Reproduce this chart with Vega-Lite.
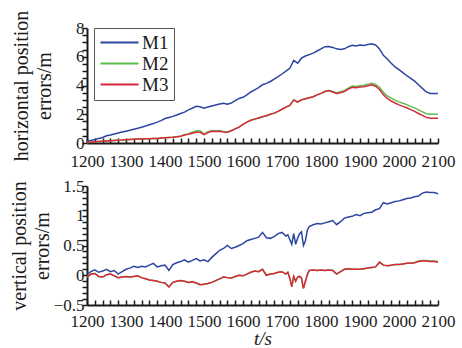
{
  "$schema": "https://vega.github.io/schema/vega-lite/v6.json",
  "padding": {"left": 9, "top": 10, "right": 4, "bottom": 0},
  "config": {
    "font": "Liberation Serif",
    "view": {"stroke": null},
    "style": {"guide-label": {"font": "Liberation Serif"}, "guide-title": {"font": "Liberation Serif"}},
    "axis": {
      "labelFont": "Liberation Serif", "labelFontSize": 17, "labelColor": "#1a1a1a",
      "titleFont": "Liberation Serif", "titleFontSize": 20, "titleFontWeight": "normal", "titleColor": "#1a1a1a",
      "domainColor": "#1a1a1a", "domainWidth": 2, "tickColor": "#1a1a1a", "tickWidth": 1.5,
      "grid": false, "labelOverlap": false, "labelFlush": false
    },
    "axisX": {"tickSize": -5, "labelPadding": 13},
    "axisY": {"tickSize": 5, "labelPadding": -2},
    "legend": {
      "labelFont": "Liberation Serif", "labelFontSize": 19, "labelColor": "#1a1a1a",
      "symbolType": "M-2.5,0H2.5", "symbolSize": 231, "symbolStrokeWidth": 2,
      "symbolOffset": 11, "labelOffset": 13,
      "strokeColor": "#555555", "padding": 5, "rowPadding": 1
    }
  },
  "datasets": {
    "horizontal": [
      {"t":1200,"M1":0.10,"M2":0.04,"M3":0.04},{"t":1210,"M1":0.18,"M2":0.06,"M3":0.06},{"t":1220,"M1":0.25,"M2":0.08,"M3":0.08},
      {"t":1230,"M1":0.32,"M2":0.10,"M3":0.10},{"t":1240,"M1":0.38,"M2":0.12,"M3":0.12},{"t":1250,"M1":0.50,"M2":0.14,"M3":0.14},
      {"t":1260,"M1":0.55,"M2":0.16,"M3":0.16},{"t":1270,"M1":0.62,"M2":0.18,"M3":0.18},{"t":1280,"M1":0.70,"M2":0.20,"M3":0.20},
      {"t":1290,"M1":0.76,"M2":0.21,"M3":0.21},{"t":1300,"M1":0.82,"M2":0.23,"M3":0.23},{"t":1310,"M1":0.88,"M2":0.25,"M3":0.25},
      {"t":1320,"M1":0.95,"M2":0.26,"M3":0.26},{"t":1330,"M1":1.02,"M2":0.27,"M3":0.27},{"t":1340,"M1":1.10,"M2":0.28,"M3":0.28},
      {"t":1350,"M1":1.18,"M2":0.29,"M3":0.29},{"t":1360,"M1":1.27,"M2":0.30,"M3":0.30},{"t":1370,"M1":1.35,"M2":0.31,"M3":0.31},
      {"t":1380,"M1":1.45,"M2":0.32,"M3":0.32},{"t":1390,"M1":1.56,"M2":0.34,"M3":0.34},{"t":1400,"M1":1.70,"M2":0.36,"M3":0.36},
      {"t":1410,"M1":1.78,"M2":0.38,"M3":0.38},{"t":1420,"M1":1.85,"M2":0.40,"M3":0.40},{"t":1430,"M1":1.95,"M2":0.43,"M3":0.43},
      {"t":1440,"M1":2.05,"M2":0.47,"M3":0.47},{"t":1450,"M1":2.15,"M2":0.58,"M3":0.55},{"t":1460,"M1":2.30,"M2":0.65,"M3":0.60},
      {"t":1470,"M1":2.42,"M2":0.75,"M3":0.68},{"t":1480,"M1":2.55,"M2":0.85,"M3":0.75},{"t":1490,"M1":2.52,"M2":0.85,"M3":0.74},
      {"t":1500,"M1":2.42,"M2":0.62,"M3":0.58},{"t":1510,"M1":2.50,"M2":0.78,"M3":0.72},{"t":1520,"M1":2.58,"M2":0.85,"M3":0.82},
      {"t":1530,"M1":2.65,"M2":0.84,"M3":0.80},{"t":1540,"M1":2.72,"M2":0.85,"M3":0.82},{"t":1550,"M1":2.76,"M2":0.80,"M3":0.76},
      {"t":1560,"M1":2.70,"M2":0.76,"M3":0.74},{"t":1570,"M1":2.78,"M2":0.86,"M3":0.85},{"t":1580,"M1":2.95,"M2":0.98,"M3":0.98},
      {"t":1590,"M1":3.10,"M2":1.10,"M3":1.10},{"t":1600,"M1":3.18,"M2":1.30,"M3":1.30},{"t":1610,"M1":3.35,"M2":1.45,"M3":1.45},
      {"t":1620,"M1":3.55,"M2":1.58,"M3":1.58},{"t":1630,"M1":3.70,"M2":1.66,"M3":1.66},{"t":1640,"M1":3.85,"M2":1.74,"M3":1.74},
      {"t":1650,"M1":4.05,"M2":1.82,"M3":1.82},{"t":1660,"M1":4.15,"M2":1.90,"M3":1.90},{"t":1670,"M1":4.28,"M2":2.00,"M3":2.00},
      {"t":1680,"M1":4.45,"M2":2.08,"M3":2.08},{"t":1690,"M1":4.62,"M2":2.20,"M3":2.20},{"t":1700,"M1":4.80,"M2":2.35,"M3":2.35},
      {"t":1710,"M1":5.00,"M2":2.50,"M3":2.50},{"t":1720,"M1":5.20,"M2":2.62,"M3":2.62},{"t":1730,"M1":5.75,"M2":3.00,"M3":3.00},
      {"t":1740,"M1":5.55,"M2":2.85,"M3":2.85},{"t":1750,"M1":5.90,"M2":3.00,"M3":3.00},{"t":1760,"M1":6.05,"M2":3.08,"M3":3.08},
      {"t":1770,"M1":6.15,"M2":3.15,"M3":3.15},{"t":1780,"M1":6.25,"M2":3.22,"M3":3.22},{"t":1790,"M1":6.40,"M2":3.35,"M3":3.35},
      {"t":1800,"M1":6.55,"M2":3.45,"M3":3.45},{"t":1810,"M1":6.70,"M2":3.58,"M3":3.58},{"t":1820,"M1":6.72,"M2":3.65,"M3":3.65},
      {"t":1830,"M1":6.65,"M2":3.57,"M3":3.55},{"t":1840,"M1":6.55,"M2":3.50,"M3":3.45},{"t":1850,"M1":6.50,"M2":3.56,"M3":3.50},
      {"t":1860,"M1":6.55,"M2":3.64,"M3":3.58},{"t":1870,"M1":6.70,"M2":3.82,"M3":3.75},{"t":1880,"M1":6.80,"M2":3.96,"M3":3.88},
      {"t":1890,"M1":6.75,"M2":3.93,"M3":3.85},{"t":1900,"M1":6.82,"M2":3.99,"M3":3.90},{"t":1910,"M1":6.78,"M2":4.02,"M3":3.92},
      {"t":1920,"M1":6.85,"M2":4.08,"M3":3.98},{"t":1930,"M1":6.90,"M2":4.16,"M3":4.05},{"t":1940,"M1":6.82,"M2":4.08,"M3":3.95},
      {"t":1950,"M1":6.55,"M2":3.88,"M3":3.72},{"t":1960,"M1":6.10,"M2":3.52,"M3":3.35},{"t":1970,"M1":5.85,"M2":3.28,"M3":3.10},
      {"t":1980,"M1":5.55,"M2":3.12,"M3":2.92},{"t":1990,"M1":5.30,"M2":2.98,"M3":2.78},{"t":2000,"M1":5.10,"M2":2.86,"M3":2.65},
      {"t":2010,"M1":4.90,"M2":2.77,"M3":2.55},{"t":2020,"M1":4.68,"M2":2.67,"M3":2.45},{"t":2030,"M1":4.50,"M2":2.55,"M3":2.32},
      {"t":2040,"M1":4.30,"M2":2.44,"M3":2.20},{"t":2050,"M1":4.05,"M2":2.30,"M3":2.05},{"t":2060,"M1":3.80,"M2":2.17,"M3":1.92},
      {"t":2070,"M1":3.55,"M2":2.04,"M3":1.78},{"t":2080,"M1":3.45,"M2":2.00,"M3":1.72},{"t":2090,"M1":3.45,"M2":2.00,"M3":1.72},
      {"t":2100,"M1":3.45,"M2":2.00,"M3":1.72}
    ],
    "vertical": [
      {"t":1200,"M1":0.02,"M2":-0.03,"M3":-0.03},{"t":1210,"M1":0.06,"M2":0.02,"M3":0.02},{"t":1220,"M1":0.09,"M2":0.03,"M3":0.03},
      {"t":1230,"M1":0.05,"M2":-0.02,"M3":-0.02},{"t":1240,"M1":0.07,"M2":-0.03,"M3":-0.03},{"t":1250,"M1":0.10,"M2":0.01,"M3":0.01},
      {"t":1260,"M1":0.06,"M2":0.02,"M3":0.02},{"t":1270,"M1":0.08,"M2":-0.01,"M3":-0.01},{"t":1280,"M1":0.02,"M2":-0.04,"M3":-0.04},
      {"t":1290,"M1":0.06,"M2":-0.03,"M3":-0.03},{"t":1300,"M1":0.10,"M2":-0.02,"M3":-0.02},{"t":1310,"M1":0.12,"M2":-0.03,"M3":-0.03},
      {"t":1320,"M1":0.15,"M2":-0.02,"M3":-0.02},{"t":1330,"M1":0.13,"M2":-0.01,"M3":-0.01},{"t":1340,"M1":0.15,"M2":-0.04,"M3":-0.04},
      {"t":1350,"M1":0.14,"M2":-0.06,"M3":-0.06},{"t":1360,"M1":0.17,"M2":-0.08,"M3":-0.08},{"t":1370,"M1":0.20,"M2":-0.09,"M3":-0.09},
      {"t":1380,"M1":0.14,"M2":-0.10,"M3":-0.10},{"t":1390,"M1":0.16,"M2":-0.12,"M3":-0.12},{"t":1400,"M1":0.17,"M2":-0.13,"M3":-0.13},
      {"t":1410,"M1":0.08,"M2":-0.19,"M3":-0.20},{"t":1420,"M1":0.18,"M2":-0.12,"M3":-0.12},{"t":1430,"M1":0.21,"M2":-0.10,"M3":-0.10},
      {"t":1440,"M1":0.23,"M2":-0.09,"M3":-0.09},{"t":1450,"M1":0.26,"M2":-0.10,"M3":-0.10},{"t":1460,"M1":0.22,"M2":-0.12,"M3":-0.12},
      {"t":1470,"M1":0.25,"M2":-0.11,"M3":-0.11},{"t":1480,"M1":0.28,"M2":-0.13,"M3":-0.13},{"t":1490,"M1":0.24,"M2":-0.16,"M3":-0.16},
      {"t":1500,"M1":0.26,"M2":-0.15,"M3":-0.15},{"t":1510,"M1":0.23,"M2":-0.14,"M3":-0.14},{"t":1520,"M1":0.30,"M2":-0.12,"M3":-0.12},
      {"t":1530,"M1":0.36,"M2":-0.09,"M3":-0.09},{"t":1540,"M1":0.42,"M2":-0.06,"M3":-0.06},{"t":1550,"M1":0.45,"M2":-0.03,"M3":-0.03},
      {"t":1560,"M1":0.50,"M2":-0.04,"M3":-0.04},{"t":1570,"M1":0.45,"M2":-0.05,"M3":-0.05},{"t":1580,"M1":0.47,"M2":-0.02,"M3":-0.02},
      {"t":1590,"M1":0.50,"M2":0.00,"M3":0.00},{"t":1600,"M1":0.53,"M2":-0.01,"M3":-0.01},{"t":1610,"M1":0.58,"M2":0.02,"M3":0.02},
      {"t":1620,"M1":0.60,"M2":0.05,"M3":0.05},{"t":1630,"M1":0.62,"M2":0.07,"M3":0.07},{"t":1640,"M1":0.64,"M2":0.06,"M3":0.06},
      {"t":1650,"M1":0.72,"M2":0.10,"M3":0.10},{"t":1660,"M1":0.63,"M2":0.00,"M3":0.00},{"t":1670,"M1":0.62,"M2":0.02,"M3":0.02},
      {"t":1680,"M1":0.65,"M2":0.03,"M3":0.03},{"t":1690,"M1":0.70,"M2":0.05,"M3":0.05},{"t":1700,"M1":0.72,"M2":0.06,"M3":0.06},
      {"t":1710,"M1":0.66,"M2":0.02,"M3":0.02},{"t":1715,"M1":0.68,"M2":0.05,"M3":0.05},{"t":1720,"M1":0.60,"M2":-0.05,"M3":-0.05},
      {"t":1725,"M1":0.52,"M2":-0.19,"M3":-0.19},{"t":1730,"M1":0.70,"M2":-0.02,"M3":-0.02},{"t":1735,"M1":0.52,"M2":-0.10,"M3":-0.10},
      {"t":1740,"M1":0.62,"M2":-0.03,"M3":-0.03},{"t":1745,"M1":0.70,"M2":-0.02,"M3":-0.02},{"t":1750,"M1":0.73,"M2":-0.05,"M3":-0.05},
      {"t":1755,"M1":0.50,"M2":-0.22,"M3":-0.22},{"t":1760,"M1":0.58,"M2":-0.10,"M3":-0.10},{"t":1765,"M1":0.76,"M2":0.01,"M3":0.01},
      {"t":1770,"M1":0.82,"M2":0.08,"M3":0.08},{"t":1780,"M1":0.85,"M2":0.09,"M3":0.09},{"t":1790,"M1":0.87,"M2":0.08,"M3":0.08},
      {"t":1800,"M1":0.86,"M2":0.09,"M3":0.09},{"t":1810,"M1":0.88,"M2":0.08,"M3":0.08},{"t":1820,"M1":0.90,"M2":0.09,"M3":0.09},
      {"t":1830,"M1":0.92,"M2":0.08,"M3":0.08},{"t":1840,"M1":0.85,"M2":0.02,"M3":0.02},{"t":1850,"M1":0.90,"M2":0.06,"M3":0.06},
      {"t":1860,"M1":0.96,"M2":0.10,"M3":0.10},{"t":1870,"M1":0.98,"M2":0.11,"M3":0.11},{"t":1880,"M1":0.99,"M2":0.10,"M3":0.10},
      {"t":1890,"M1":1.02,"M2":0.10,"M3":0.10},{"t":1900,"M1":1.00,"M2":0.10,"M3":0.10},{"t":1910,"M1":1.04,"M2":0.11,"M3":0.11},
      {"t":1920,"M1":1.05,"M2":0.12,"M3":0.12},{"t":1930,"M1":1.06,"M2":0.13,"M3":0.13},{"t":1940,"M1":1.10,"M2":0.14,"M3":0.14},
      {"t":1950,"M1":1.12,"M2":0.22,"M3":0.22},{"t":1960,"M1":1.22,"M2":0.17,"M3":0.17},{"t":1970,"M1":1.20,"M2":0.16,"M3":0.16},
      {"t":1980,"M1":1.22,"M2":0.17,"M3":0.17},{"t":1990,"M1":1.24,"M2":0.18,"M3":0.18},{"t":2000,"M1":1.25,"M2":0.18,"M3":0.18},
      {"t":2010,"M1":1.27,"M2":0.19,"M3":0.19},{"t":2020,"M1":1.29,"M2":0.20,"M3":0.20},{"t":2030,"M1":1.30,"M2":0.20,"M3":0.20},
      {"t":2040,"M1":1.32,"M2":0.21,"M3":0.21},{"t":2050,"M1":1.33,"M2":0.24,"M3":0.23},{"t":2060,"M1":1.38,"M2":0.25,"M3":0.24},
      {"t":2070,"M1":1.40,"M2":0.25,"M3":0.24},{"t":2080,"M1":1.39,"M2":0.24,"M3":0.23},{"t":2090,"M1":1.39,"M2":0.24,"M3":0.23},
      {"t":2100,"M1":1.37,"M2":0.23,"M3":0.22}
    ]
  },
  "bounds": "flush",
  "spacing": 43,
  "resolve": {"legend": {"color": "independent"}},
  "vconcat": [
    {
      "width": 351,
      "height": 115,
      "data": {"name": "horizontal"},
      "transform": [{"fold": ["M1", "M2", "M3"], "as": ["model", "error"]}],
      "mark": {"type": "line", "strokeWidth": 1.5},
      "encoding": {
        "x": {
          "field": "t", "type": "quantitative",
          "scale": {"domain": [1200, 2100], "nice": false, "zero": false},
          "axis": {
            "title": null, "format": "d", "labelFont": "Liberation Serif", "labelPadding": 15,
            "values": [1200,1220,1240,1260,1280,1300,1320,1340,1360,1380,1400,1420,1440,1460,1480,1500,1520,1540,1560,1580,1600,1620,1640,1660,1680,1700,1720,1740,1760,1780,1800,1820,1840,1860,1880,1900,1920,1940,1960,1980,2000,2020,2040,2060,2080,2100],
            "labelExpr": "datum.value % 100 === 0 ? datum.label : ''"
          }
        },
        "y": {
          "field": "error", "type": "quantitative",
          "scale": {"domain": [0, 8], "nice": false},
          "axis": {
            "title": ["horizontal position", "errors/m"], "titlePadding": 21, "titleLineHeight": 23,
            "format": "~g", "labelFont": "Liberation Serif",
            "values": [0,0.5,1,1.5,2,2.5,3,3.5,4,4.5,5,5.5,6,6.5,7,7.5,8],
            "labelExpr": "datum.value % 2 === 0 ? datum.label : ''"
          }
        },
        "color": {
          "field": "model", "type": "nominal",
          "scale": {"domain": ["M1", "M2", "M3"], "range": ["#2c45a0", "#5cbd4c", "#d8283a"]},
          "legend": {"title": null, "orient": "none", "legendX": 7, "legendY": 0}
        }
      }
    },
    {
      "width": 351,
      "height": 119,
      "data": {"name": "vertical"},
      "transform": [{"fold": ["M1", "M2", "M3"], "as": ["model", "error"]}],
      "mark": {"type": "line", "strokeWidth": 1.5},
      "encoding": {
        "x": {
          "field": "t", "type": "quantitative",
          "scale": {"domain": [1200, 2100], "nice": false, "zero": false},
          "axis": {
            "title": "t/s", "titleFontStyle": "italic", "titleFontSize": 19, "titlePadding": 0,
            "format": "d", "labelFont": "Liberation Serif",
            "values": [1200,1220,1240,1260,1280,1300,1320,1340,1360,1380,1400,1420,1440,1460,1480,1500,1520,1540,1560,1580,1600,1620,1640,1660,1680,1700,1720,1740,1760,1780,1800,1820,1840,1860,1880,1900,1920,1940,1960,1980,2000,2020,2040,2060,2080,2100],
            "labelExpr": "datum.value % 100 === 0 ? datum.label : ''"
          }
        },
        "y": {
          "field": "error", "type": "quantitative",
          "scale": {"domain": [-0.5, 1.5], "nice": false, "zero": false},
          "axis": {
            "title": ["vertical position", "errors/m"], "titlePadding": 1, "titleLineHeight": 23,
            "format": "~g", "labelFont": "Liberation Serif",
            "values": [-0.5,-0.4,-0.3,-0.2,-0.1,0,0.1,0.2,0.3,0.4,0.5,0.6,0.7,0.8,0.9,1,1.1,1.2,1.3,1.4,1.5],
            "labelExpr": "abs(round(datum.value * 10)) % 5 === 0 ? datum.label : ''"
          }
        },
        "color": {
          "field": "model", "type": "nominal",
          "scale": {"domain": ["M1", "M2", "M3"], "range": ["#2c45a0", "#5cbd4c", "#d8283a"]},
          "legend": null
        }
      }
    }
  ]
}
